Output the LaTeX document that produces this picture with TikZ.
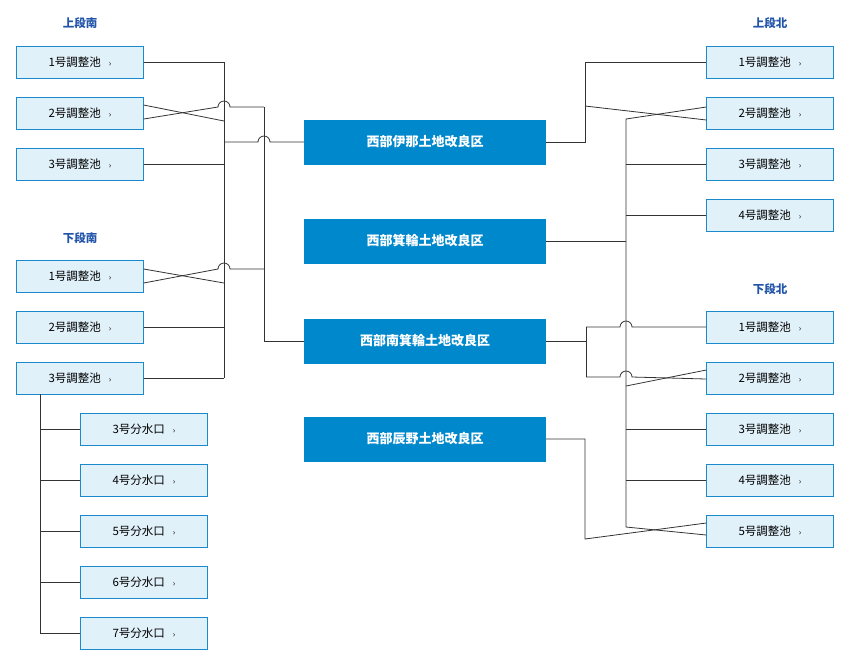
\documentclass[tikz,border=0pt]{standalone}
\usepackage{fontspec}
\setmainfont{Noto Sans CJK JP}
\definecolor{boxline}{HTML}{1A8ACC}
\definecolor{boxfill}{HTML}{E1F1FA}
\definecolor{distfill}{HTML}{0088CC}
\definecolor{headblue}{HTML}{2255AA}
\definecolor{wire}{HTML}{333333}
\tikzset{
  pond/.style={draw=boxline,fill=boxfill,minimum width=127pt,minimum height=32pt,inner sep=0pt,font=\fontsize{11.5}{12}\selectfont},
  district/.style={fill=distfill,text=white,minimum width=242pt,minimum height=45pt,inner sep=0pt,font=\fontsize{13}{14}\selectfont\bfseries},
  head/.style={text=headblue,font=\fontsize{11.5}{12}\selectfont\bfseries},
  wire/.style={draw=wire,line width=0.8pt}
}
% horizontal line with a hop over the vertical at x=#2
\def\hop#1#2#3{\draw[wire] #1 -- ([xshift=-6pt]#2) arc[start angle=180,end angle=0,radius=6pt] -- #3;}
\def\pondtxt#1{#1\hspace{8pt}{\fontsize{8}{8}\selectfont ›}}
\begin{document}
\begin{tikzpicture}[x=1pt,y=-1pt]
\useasboundingbox (0,0) rectangle (850,665);
% left side
\node[head] at (80,23) {上段南};
\node[head] at (80,238) {下段南};
\node[pond] (ua1) at (80,62) {\pondtxt{1号調整池}};
\node[pond] (ua2) at (80,113) {\pondtxt{2号調整池}};
\node[pond] (ua3) at (80,164) {\pondtxt{3号調整池}};
\node[pond] (la1) at (80,276) {\pondtxt{1号調整池}};
\node[pond] (la2) at (80,327) {\pondtxt{2号調整池}};
\node[pond] (la3) at (80,378) {\pondtxt{3号調整池}};
\foreach \n/\y in {3/429,4/480,5/531,6/582,7/633}
  \node[pond] (o\n) at (144,\y) {\pondtxt{{\n}号分水口}};
% districts
\node[district] (d1) at (425,142) {西部伊那土地改良区};
\node[district] (d2) at (425,241) {西部箕輪土地改良区};
\node[district] (d3) at (425,341) {西部南箕輪土地改良区};
\node[district] (d4) at (425,439) {西部辰野土地改良区};
% right side
\node[head] at (770,23) {上段北};
\node[head] at (770,289) {下段北};
\foreach \n/\y in {1/62,2/113,3/164,4/215}
  \node[pond] (ub\n) at (770,\y) {\pondtxt{{\n}号調整池}};
\foreach \n/\y in {1/327,2/378,3/429,4/480,5/531}
  \node[pond] (lb\n) at (770,\y) {\pondtxt{{\n}号調整池}};
% left buses
\coordinate (lbus) at (224,0);
\coordinate (mbus) at (264,0);
\draw[wire] (lbus |- ua1) -- (lbus |- la3);
\draw[wire] (ua1.east) -- (lbus |- ua1);
\draw[wire] ([yshift=8pt]ua2.east) -- (lbus |- 0,121);
\draw[wire] (ua3.east) -- (lbus |- ua3);
\draw[wire] ([yshift=7pt]la1.east) -- (lbus |- 0,283);
\draw[wire] (la2.east) -- (lbus |- la2);
\draw[wire] (la3.east) -- (lbus |- la3);
\hop{([yshift=-6pt]ua2.east)}{224,107}{(264,107)}
\hop{([yshift=-7pt]la1.east)}{224,269}{(264,269)}
\hop{(lbus |- d1)}{264,142}{(d1.west)}
\draw[wire] (mbus |- 0,107) -- (mbus |- d3) -- (d3.west);
\draw[wire] (la3.south -| 40,0) -- (40,633) -- (o7.west);
\foreach \n in {3,4,5,6}
  \draw[wire] (40,0 |- o\n) -- (o\n.west);
% right buses
\draw[wire] (d1.east) -- (585,142) -- (585,62) -- (ub1.west);
\draw[wire] (585,106) -- ([yshift=-7pt]ub2.west);
\draw[wire] ([yshift=6pt]ub2.west) -- (626,119) -- (626,527) -- ([yshift=-4pt]lb5.west);
\draw[wire] (626,0 |- ub3) -- (ub3.west);
\draw[wire] (626,0 |- ub4) -- (ub4.west);
\draw[wire] (d2.east) -- (626,0 |- d2);
\draw[wire] (d3.east) -- (586,341);
\draw[wire] (586,327) -- (586,377);
\hop{(586,327)}{626,327}{(lb1.west)}
\hop{(586,377)}{626,377}{([yshift=-1pt]lb2.west)}
\draw[wire] (626,386) -- ([yshift=8pt]lb2.west);
\draw[wire] (626,0 |- lb3) -- (lb3.west);
\draw[wire] (626,0 |- lb4) -- (lb4.west);
\draw[wire] (d4.east) -- (585,439) -- (585,539) -- ([yshift=8pt]lb5.west);
\end{tikzpicture}
\end{document}
